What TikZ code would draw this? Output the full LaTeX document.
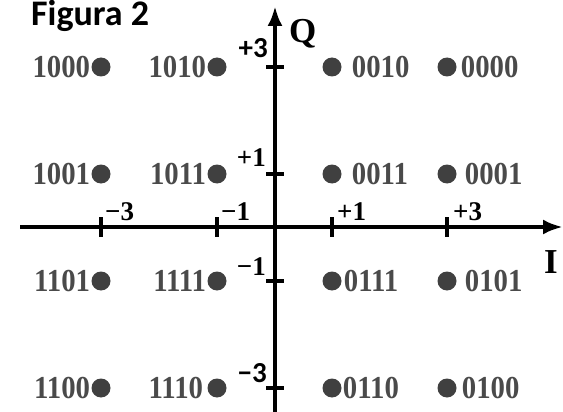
\documentclass[tikz,border=0pt]{standalone}
\usepackage{fontspec}
\setmainfont{Liberation Serif}
\newfontfamily\calfont{Carlito}
\newfontfamily\codefont{Liberation Serif}[FakeStretch=0.9]
\usetikzlibrary{arrows.meta}
\definecolor{dotgray}{HTML}{404040}
\definecolor{labgray}{HTML}{4A4A4A}
\begin{document}
\begin{tikzpicture}[x=1pt,y=-1pt,
  axisline/.style={line width=4pt, -{Latex[length=20pt,width=15pt]}},
  tickline/.style={line width=3.5pt},
  pt/.style={circle, fill=dotgray, minimum size=19pt, inner sep=0pt},
  code/.style={font=\codefont\fontsize{32}{32}\selectfont\bfseries, text=labgray, inner sep=0pt},
  tlab/.style={font=\fontsize{27}{27}\selectfont\bfseries, inner sep=0pt},
  slab/.style={font=\calfont\fontsize{29}{29}\selectfont\bfseries, inner sep=0pt},
  axlab/.style={font=\fontsize{35}{35}\selectfont\bfseries, inner sep=0pt},
]
\useasboundingbox (0,0) rectangle (563,412);
% axes
\coordinate (hs) at (20,227);
\coordinate (he) at (563,227);
\coordinate (vs) at (275,412);
\coordinate (ve) at (275,6);
\draw[axisline] (hs) -- (he);
\draw[axisline] (vs) -- (ve);
% ticks on I
\foreach \n/\x in {a/101,b/217,c/332,d/447}{
  \coordinate (ht\n1) at (\x,217);
  \coordinate (ht\n2) at (\x,237);
  \draw[tickline] (ht\n1) -- (ht\n2);
}
% ticks on Q
\foreach \n/\y in {a/67,b/174,c/281,d/388}{
  \coordinate (vt\n1) at (266,\y);
  \coordinate (vt\n2) at (284,\y);
  \draw[tickline] (vt\n1) -- (vt\n2);
}
% tick labels on I
\node[tlab, anchor=south west] (lm3) at (105,221) {−3};
\node[tlab, anchor=south west] (lm1) at (221,221) {−1};
\node[tlab, anchor=south west] (lp1) at (337,221) {+1};
\node[tlab, anchor=south west] (lp3) at (453,221) {+3};
% tick labels on Q
\node[slab, anchor=south east] (qp3) at (268,58) {+3};
\node[tlab, anchor=south east] (qp1) at (266,167) {+1};
\node[tlab, anchor=south east] (qm1) at (266,276) {−1};
\node[slab, anchor=south east] (qm3) at (267,383) {−3};
% axis names
\node[axlab, anchor=base west] (Q) at (289,43) {Q};
\node[axlab, anchor=base west] (I) at (544,273) {I};
% title
\node[font=\calfont\fontsize{36}{36}\selectfont\bfseries, inner sep=0pt, anchor=base west] (title) at (31,26) {Figura 2};
% constellation points
\foreach \n/\x in {a/101,b/217,c/332,d/447}{
  \foreach \m/\y in {1/67,2/174,3/281,4/388}{
    \node[pt] (p\n\m) at (\x,\y) {};
  }
}
% left labels
\node[code, anchor=east] (t1000) at ([xshift=-1pt]pa1.west) {1000};
\node[code, anchor=east] (t1010) at ([xshift=-1pt]pb1.west) {1010};
\node[code, anchor=east] (t1001) at ([xshift=-1pt]pa2.west) {1001};
\node[code, anchor=east] (t1011) at ([xshift=-1pt]pb2.west) {1011};
\node[code, anchor=east] (t1101) at ([xshift=-1pt]pa3.west) {1101};
\node[code, anchor=east] (t1111) at ([xshift=-1pt]pb3.west) {1111};
\node[code, anchor=east] (t1100) at ([xshift=-1pt]pa4.west) {1100};
\node[code, anchor=east] (t1110) at ([xshift=-4pt]pb4.west) {1110};
% right labels
\node[code, anchor=west] (t0010) at ([xshift=10pt]pc1.east) {0010};
\node[code, anchor=west] (t0000) at ([xshift=4pt]pd1.east) {0000};
\node[code, anchor=west] (t0011) at ([xshift=10pt]pc2.east) {0011};
\node[code, anchor=west] (t0001) at ([xshift=8pt]pd2.east) {0001};
\node[code, anchor=west] (t0111) at ([xshift=2pt]pc3.east) {0111};
\node[code, anchor=west] (t0101) at ([xshift=8pt]pd3.east) {0101};
\node[code, anchor=west] (t0110) at ([xshift=1pt]pc4.east) {0110};
\node[code, anchor=west] (t0100) at ([xshift=5pt]pd4.east) {0100};
\end{tikzpicture}
\end{document}
